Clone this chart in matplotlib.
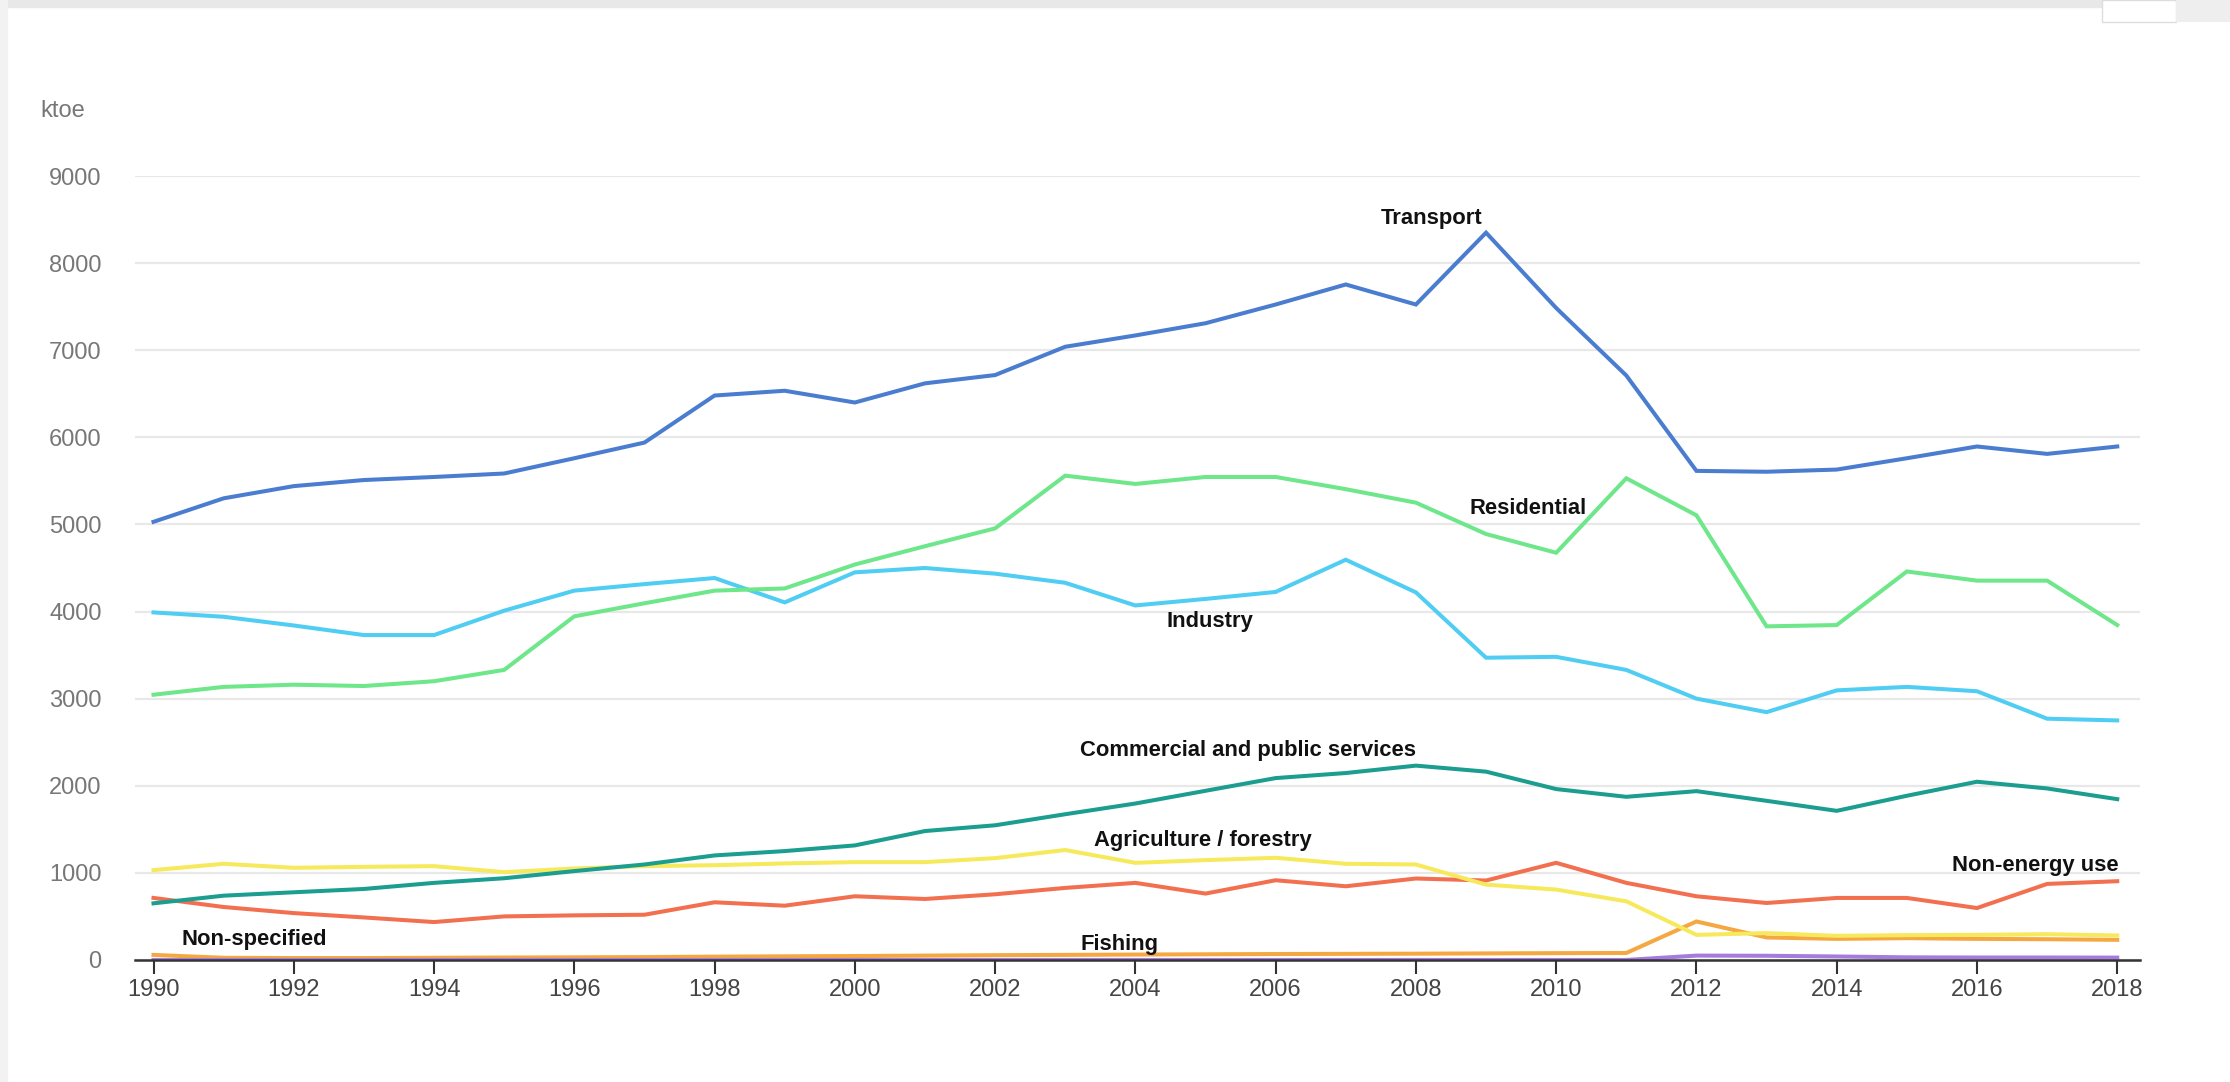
import matplotlib.pyplot as plt
from matplotlib.patches import Rectangle

years = list(range(1990, 2019))

transport = [5030, 5300, 5440, 5510, 5545, 5585, 5760, 5940, 6480, 6535, 6400, 6620, 6715,
             7040, 7170, 7310, 7525, 7755, 7525, 8350, 7485, 6710, 5615, 5605, 5630, 5760,
             5895, 5810, 5895]
residential = [3045, 3135, 3160, 3145, 3200, 3330, 3945, 4095, 4240, 4265, 4540, 4750, 4955,
               5560, 5465, 5545, 5545, 5405, 5250, 4890, 4675, 5530, 5105, 3830, 3845, 4460,
               4355, 4355, 3845]
industry = [3990, 3940, 3840, 3730, 3730, 4010, 4240, 4315, 4385, 4105, 4450, 4500, 4435,
            4330, 4070, 4145, 4225, 4595, 4220, 3470, 3480, 3330, 3000, 2845, 3095, 3135,
            3085, 2770, 2750]
commercial = [650, 738, 777, 815, 885, 938, 1020, 1096, 1200, 1250, 1315, 1480, 1546,
              1673, 1796, 1942, 2088, 2146, 2231, 2162, 1962, 1873, 1938, 1827, 1712, 1885,
              2046, 1969, 1846]
agriculture = [1031, 1104, 1058, 1069, 1077, 1008, 1050, 1077, 1088, 1108, 1123, 1123, 1169,
               1262, 1115, 1146, 1173, 1104, 1096, 865, 808, 673, 288, 308, 277, 285, 288,
               296, 281]
non_energy = [712, 608, 538, 488, 435, 500, 512, 519, 662, 623, 731, 700, 754, 827, 885,
              762, 915, 846, 935, 912, 1115, 885, 731, 654, 712, 712, 596, 873, 904]
non_specified = [58, 25, 22, 22, 25, 28, 30, 33, 38, 42, 45, 50, 55, 58, 62, 65, 68, 70, 72,
                 75, 78, 80, 442, 258, 242, 250, 242, 238, 231]
fishing = [0, 0, 0, 0, 0, 0, 0, 0, 0, 0, 0, 0, 0, 0, 0, 0, 0, 0, 0, 0, 0, 0, 50, 48, 40, 30,
           28, 28, 27]

series = [
    ("Non-specified", non_specified, "#f5a842"),
    ("Fishing", fishing, "#a57be0"),
    ("Non-energy use", non_energy, "#f2704f"),
    ("Agriculture / forestry", agriculture, "#f7e95c"),
    ("Commercial and public services", commercial, "#1b9e8f"),
    ("Industry", industry, "#50cdf2"),
    ("Residential", residential, "#6ee68a"),
    ("Transport", transport, "#4a7dd0"),
]

# label anchor (year, value) for each series name
label_pos = {
    "Transport": (2008.23, 8510),
    "Residential": (2009.6, 5180),
    "Industry": (2005.07, 3890),
    "Commercial and public services": (2005.6, 2400),
    "Agriculture / forestry": (2004.96, 1370),
    "Non-energy use": (2016.83, 1080),
    "Non-specified": (1991.44, 230),
    "Fishing": (2003.77, 180),
}

sans = ["Liberation Sans", "DejaVu Sans"]
fig = plt.figure(figsize=(22.3, 10.82), dpi=100)
ax = fig.add_axes([0.0605, 0.1128, 0.899, 0.7245])

for name, vals, col in series:
    ax.plot(years, vals, color=col, lw=2.9, solid_joinstyle="miter", zorder=3)

for name, (x, y) in label_pos.items():
    ax.text(x, y, name, ha="center", va="center", fontsize=15.8, fontweight="bold",
            family=sans, color="#111111", zorder=5)

ax.set_xlim(1989.735, 2018.32)
ax.set_ylim(0, 9000)
ax.set_yticks(range(0, 9001, 1000))
ax.set_xticks(range(1990, 2019, 2))
ax.yaxis.grid(True, color="#e8e8e8", lw=1.6)
ax.set_axisbelow(True)
for s in ["top", "right", "left"]:
    ax.spines[s].set_visible(False)
ax.spines["bottom"].set_color("#333333")
ax.spines["bottom"].set_linewidth(1.8)
ax.spines["bottom"].set_zorder(4)
ax.tick_params(axis="y", length=0, pad=24, labelsize=17, labelcolor="#777777")
ax.tick_params(axis="x", length=10, width=1.5, color="#333333", pad=4, labelsize=17,
               labelcolor="#444444")
for lab in ax.get_xticklabels() + ax.get_yticklabels():
    lab.set_family(sans)

fig.text(40 / 2230, 1 - 111 / 1082, "ktoe", ha="left", va="center", fontsize=17,
         family=sans, color="#777777")

# faint page frame of the screenshot
fig.patches.append(Rectangle((0, 1 - 7 / 1082), 1, 7 / 1082, transform=fig.transFigure,
                             color="#e8e8e8", zorder=0))
fig.patches.append(Rectangle((0, 0), 7 / 2230, 1, transform=fig.transFigure,
                             color="#f2f2f2", zorder=0))
fig.patches.append(Rectangle((2102 / 2230, 1 - 22 / 1082), 74 / 2230, 22 / 1082,
                             transform=fig.transFigure, facecolor="white",
                             edgecolor="#dddddd", zorder=1))
fig.patches.append(Rectangle((2176 / 2230, 1 - 22 / 1082), 54 / 2230, 22 / 1082,
                             transform=fig.transFigure, facecolor="#eeeeee",
                             edgecolor="none", zorder=1))

fig.savefig("out.png", dpi=100)
